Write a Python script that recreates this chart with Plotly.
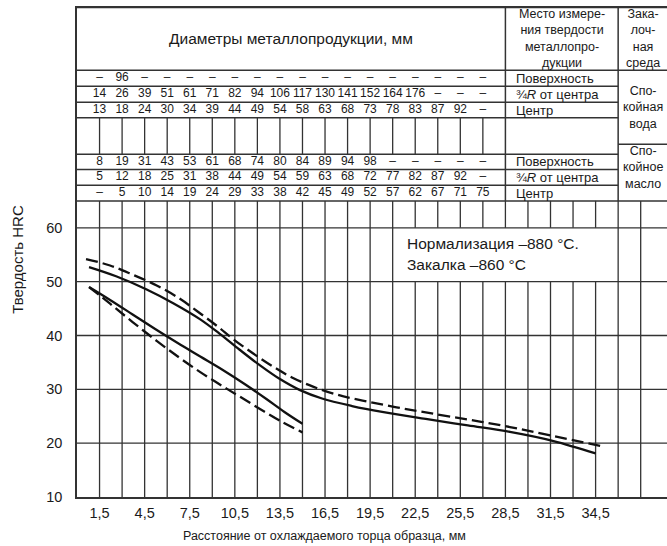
import plotly.graph_objects as go

# ---------------- data ----------------
dist_ticks = [1.5, 4.5, 7.5, 10.5, 13.5, 16.5, 19.5, 22.5, 25.5, 28.5, 31.5, 34.5]
dist_ticktext = ["1,5", "4,5", "7,5", "10,5", "13,5", "16,5", "19,5", "22,5", "25,5", "28,5", "31,5", "34,5"]
hrc_ticks = [10, 20, 30, 40, 50, 60]

# diameters table (values at each 1.5 mm grid line)
water_surface = ["–", "96"] + ["–"] * 16
water_34R = ["14", "26", "39", "51", "61", "71", "82", "94", "106", "117", "130", "141", "152", "164", "176", "–", "–", "–"]
water_center = ["13", "18", "24", "30", "34", "39", "44", "49", "54", "58", "63", "68", "73", "78", "83", "87", "92", "–"]
oil_surface = ["8", "19", "31", "43", "53", "61", "68", "74", "80", "84", "89", "94", "98", "–", "–", "–", "–", "–"]
oil_34R = ["5", "12", "18", "25", "31", "38", "44", "49", "54", "59", "63", "68", "72", "77", "82", "87", "92", "–"]
oil_center = ["–", "5", "10", "14", "19", "24", "29", "33", "38", "42", "45", "49", "52", "57", "62", "67", "71", "75"]

# hardness curves
upper_dash_x = [0.6, 2.2, 3.7, 5.3, 6.8, 8.0, 9.3, 10.4, 11.7, 13.0, 14.3, 15.7, 17.2, 19.0, 21.0, 23.2, 26.0, 28.8, 31.7, 35.0]
upper_dash_y = [54.2, 53.0, 51.3, 49.3, 46.9, 44.5, 41.8, 39.3, 36.7, 34.3, 32.2, 30.5, 29.1, 27.9, 26.8, 25.7, 24.4, 23.0, 21.3, 19.4]
upper_solid_x = [0.8, 2.6, 4.6, 6.4, 8.2, 9.5, 10.8, 12.2, 13.5, 14.8, 16.3, 18.3, 20.3, 23.2, 26.0, 28.8, 31.7, 34.5]
upper_solid_y = [52.7, 51.0, 48.6, 46.0, 43.0, 40.3, 37.4, 34.4, 31.9, 29.9, 28.3, 26.9, 25.8, 24.5, 23.3, 22.1, 20.4, 18.1]
lower_solid_x = [0.8, 2.2, 3.7, 5.2, 6.7, 8.2, 9.7, 11.2, 12.6, 13.8, 15.0]
lower_solid_y = [49.0, 46.6, 43.9, 41.2, 38.6, 36.1, 33.6, 30.9, 28.2, 25.8, 23.6]
lower_dash_x = [0.8, 2.2, 3.7, 5.3, 6.8, 8.2, 9.5, 10.8, 12.2, 13.6, 15.0]
lower_dash_y = [49.0, 45.9, 42.5, 39.0, 35.9, 33.2, 30.9, 28.7, 26.3, 24.0, 22.0]

# ---------------- geometry of the table (data units) ----------------
XMAX = 39.25
YTOP = 101.2
TABLE_TOP = 101.0
PLOT_TOP = 65
row_lines = [67.9, 70.85, 73.65, 80.45, 83.3, 86.3, 89.25]
row_centers = {"ws": 87.78, "w34": 84.8, "wc": 81.88, "os": 72.25, "o34": 69.38, "oc": 66.45}
COL_PLACE = 28.5
COL_MEDIUM = 36.0

GRID = "#333333"
fig = go.Figure()

shapes = []
def seg(x0, y0, x1, y1, w=1.3, color=GRID):
    shapes.append(dict(type="line", xref="x", yref="y", x0=x0, y0=y0, x1=x1, y1=y1,
                       line=dict(color=color, width=w), layer="below"))

# plot horizontal grid
for h in [20, 30, 40, 50, 60]:
    seg(0, h, XMAX, h)
seg(0, PLOT_TOP, XMAX, PLOT_TOP, 1.5)
# plot vertical grid
for i in range(1, 26):
    xv = 1.5 * i
    if 22.4 < xv < 34.6:
        seg(xv, 10, xv, 50)
        seg(xv, 60, xv, PLOT_TOP)
    else:
        seg(xv, 10, xv, PLOT_TOP)
# table
seg(0, TABLE_TOP, XMAX, TABLE_TOP, 2.2)
seg(0, 89.25, XMAX, 89.25, 1.5)
for r in row_lines[:-1]:
    seg(0, r, COL_MEDIUM, r, 1.5)
seg(COL_MEDIUM, 75.5, XMAX, 75.5, 1.5)
seg(COL_PLACE, PLOT_TOP, COL_PLACE, TABLE_TOP, 1.5)
seg(COL_MEDIUM, PLOT_TOP, COL_MEDIUM, TABLE_TOP, 1.5)
for i in range(1, 19):
    seg(1.5 * i, 73.65, 1.5 * i, 80.45)

fig.update_layout(shapes=shapes)

FONT = "Liberation Sans, Arial"
# table numbers
xs = [1.5 * i for i in range(1, 19)]
for key, vals in [("ws", water_surface), ("w34", water_34R), ("wc", water_center),
                  ("os", oil_surface), ("o34", oil_34R), ("oc", oil_center)]:
    fig.add_trace(go.Scatter(x=xs, y=[row_centers[key]] * len(xs), text=vals, mode="text",
                             textfont=dict(family=FONT, size=12, color="#1a1a1a"),
                             hoverinfo="skip", showlegend=False))

# curves
def curve(x, y, dash):
    fig.add_trace(go.Scatter(x=x, y=y, mode="lines", showlegend=False,
                             line=dict(color="#111", width=2.3, shape="spline", smoothing=1.0,
                                       dash="12px,5px" if dash else "solid")))
curve(upper_dash_x, upper_dash_y, True)
curve(upper_solid_x, upper_solid_y, False)
curve(lower_solid_x, lower_solid_y, False)
curve(lower_dash_x, lower_dash_y, True)

ann = []
def txt(x, y, s, size=12, xanchor="center", align="center", xref="x", yref="y", angle=0):
    ann.append(dict(x=x, y=y, xref=xref, yref=yref, text=s, showarrow=False, xanchor=xanchor,
                    yanchor="middle", align=align, textangle=angle,
                    font=dict(family=FONT, size=size, color="#1a1a1a")))

txt(COL_PLACE / 2, 95.1, "Диаметры металлопродукции, мм", 15.5)
txt((COL_PLACE + COL_MEDIUM) / 2, 95.1, "Место измере-<br>ния твердости<br>металлопро-<br>дукции", 12.5)
txt((COL_MEDIUM + XMAX) / 2, 95.1, "Зака-<br>лоч-<br>ная<br>среда", 12.5)
place_labels = ["Поверхность", "¾<i>R</i> от центра", "Центр"]
for lab, key in zip(place_labels, ["ws", "w34", "wc"]):
    txt(COL_PLACE + 0.6, row_centers[key], lab, 13, "left", "left")
for lab, key in zip(place_labels, ["os", "o34", "oc"]):
    txt(COL_PLACE + 0.6, row_centers[key], lab, 13, "left", "left")
txt((COL_MEDIUM + XMAX) / 2, 82.35, "Спо-<br>койная<br>вода", 12.5)
txt((COL_MEDIUM + XMAX) / 2, 71.2, "Спо-<br>койное<br>масло", 12.5)
txt(21.8, 57.0, "Нормализация –880 °C.", 15.5, "left", "left")
txt(21.8, 53.1, "Закалка –860 °C", 15.5, "left", "left")
txt(-0.1, 0.483, "Твердость HRC", 15, xref="paper", yref="paper", angle=-90)
txt(0.42, -0.08, "Расстояние от охлаждаемого торца образца, мм", 12.5, xref="paper", yref="paper")
fig.update_layout(annotations=ann)

fig.update_xaxes(range=[0, XMAX], showgrid=False, zeroline=False, showline=True,
                 linecolor=GRID, linewidth=1.5, tickvals=dist_ticks, ticktext=dist_ticktext,
                 ticks="", ticklabelstandoff=2, tickfont=dict(family=FONT, size=14.5, color="#1a1a1a"))
fig.update_yaxes(range=[10, YTOP], showgrid=False, zeroline=False, showline=True,
                 linecolor=GRID, linewidth=1.5, tickvals=hrc_ticks, ticks="",
                 ticklabelstandoff=10, tickfont=dict(family=FONT, size=14.5, color="#1a1a1a"))
fig.update_layout(width=667, height=546, margin=dict(l=77, r=0, t=6, b=49),
                  plot_bgcolor="white", paper_bgcolor="white")
# remove the default page margin so the 667x546 figure fills the window exactly
fig.write_html("out.html", config={"displayModeBar": False},
               post_script="document.body.style.margin='0';document.body.style.overflow='hidden';")
